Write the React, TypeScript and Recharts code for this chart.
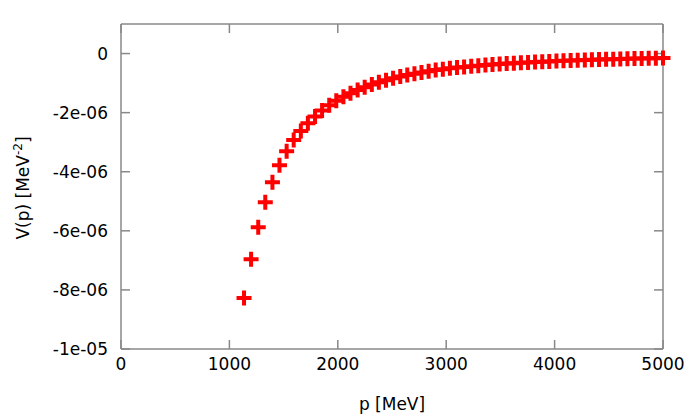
import React from 'react';
import { ScatterChart, Scatter, XAxis, YAxis } from 'recharts';

const FONT = '"DejaVu Sans", Verdana, sans-serif';

const pValues = [
  1135, 1200, 1266, 1331, 1397, 1462, 1528, 1593, 1659, 1724, 1790, 1855, 1921, 1986, 2052, 2117,
  2183, 2248, 2314, 2379, 2445, 2510, 2576, 2641, 2707, 2772, 2838, 2903, 2969, 3034, 3100, 3165,
  3231, 3296, 3362, 3427, 3493, 3558, 3624, 3689, 3755, 3820, 3886, 3951, 4017, 4082, 4148, 4213,
  4279, 4344, 4410, 4475, 4541, 4606, 4672, 4737, 4803, 4868, 4934, 5000,
];

const vValues = [
  -8.27e-6, -6.96e-6, -5.88e-6, -5.03e-6, -4.36e-6, -3.78e-6, -3.31e-6, -2.93e-6,
  -2.62e-6, -2.36e-6, -2.13e-6, -1.93e-6, -1.75e-6, -1.6e-6, -1.46e-6, -1.34e-6,
  -1.23e-6, -1.14e-6, -1.05e-6, -0.97e-6, -0.9e-6, -0.84e-6, -0.78e-6, -0.73e-6,
  -0.68e-6, -0.64e-6, -0.6e-6, -0.56e-6, -0.53e-6, -0.5e-6, -0.475e-6, -0.452e-6,
  -0.43e-6, -0.41e-6, -0.391e-6, -0.373e-6, -0.356e-6, -0.341e-6, -0.326e-6, -0.312e-6,
  -0.299e-6, -0.287e-6, -0.276e-6, -0.265e-6, -0.254e-6, -0.245e-6, -0.235e-6, -0.227e-6,
  -0.218e-6, -0.211e-6, -0.203e-6, -0.196e-6, -0.189e-6, -0.183e-6, -0.177e-6, -0.171e-6,
  -0.165e-6, -0.16e-6, -0.155e-6, -0.15e-6,
];

const xTicks = [0, 1000, 2000, 3000, 4000, 5000];
const xTickLabels = ['0', '1000', '2000', '3000', '4000', '5000'];
const yTicks = [0, -2e-6, -4e-6, -6e-6, -8e-6, -1e-5];
const yTickLabels = ['0', '-2e-06', '-4e-06', '-6e-06', '-8e-06', '-1e-05'];

const data = pValues.map((p, i) => ({ p, v: vValues[i] }));

const AXIS = '#888888';

const Plus = (props: any) => {
  const { cx, cy } = props;
  if (cx == null || cy == null) return null;
  const h = 7.5;
  return (
    <path
      d={`M${cx - h},${cy}H${cx + h}M${cx},${cy - h}V${cy + h}`}
      stroke="#ff0000"
      strokeWidth={4}
      fill="none"
    />
  );
};

const Nothing = () => <g />;

const XLabel = () => (
  <text x={392} y={410} textAnchor="middle" fontFamily={FONT} fontSize={17} fill="#000">
    p [MeV]
  </text>
);

const YLabel = () => (
  <text
    x={0}
    y={0}
    transform="translate(29,188) rotate(-90)"
    textAnchor="middle"
    fontFamily={FONT}
    fontSize={17}
    fill="#000"
  >
    V(p) [MeV
    <tspan fontSize={12} dy={-7}>-2</tspan>
    <tspan dy={7}>]</tspan>
  </text>
);

const xFmt = (v: number) => {
  const i = xTicks.indexOf(v);
  return i >= 0 ? xTickLabels[i] : String(v);
};
const yFmt = (v: number) => {
  const i = yTicks.findIndex((t) => Math.abs(t - v) < 1e-12);
  return i >= 0 ? yTickLabels[i] : String(v);
};

export default function App() {
  return (
    <div style={{ position: 'fixed', left: 0, top: 0, width: 698, height: 419, background: '#fff' }}>
      <ScatterChart width={698} height={419} margin={{ top: 23, right: 34, left: 0, bottom: 22 }}>
        <XAxis
          xAxisId="b"
          dataKey="p"
          type="number"
          orientation="bottom"
          domain={[0, 5000]}
          ticks={xTicks}
          interval={0}
          height={48}
          tickSize={-9}
          tickMargin={18}
          axisLine={{ stroke: AXIS, strokeWidth: 1.5 }}
          tickLine={{ stroke: AXIS, strokeWidth: 1.5 }}
          tick={{ fill: '#000', fontSize: 17, fontFamily: FONT }}
          tickFormatter={xFmt}
          label={{ content: XLabel }}
        />
        <XAxis
          xAxisId="t"
          dataKey="p"
          type="number"
          orientation="top"
          domain={[0, 5000]}
          ticks={xTicks}
          interval={0}
          height={1}
          tickSize={-9}
          axisLine={{ stroke: AXIS, strokeWidth: 1.5 }}
          tickLine={{ stroke: AXIS, strokeWidth: 1.5 }}
          tick={{ fill: 'none', fontSize: 1 }}
          tickFormatter={() => ''}
        />
        <YAxis
          yAxisId="l"
          dataKey="v"
          type="number"
          orientation="left"
          domain={[-1e-5, 1e-6]}
          ticks={yTicks}
          interval={0}
          width={121}
          tickSize={-9}
          tickMargin={22}
          axisLine={{ stroke: AXIS, strokeWidth: 1.5 }}
          tickLine={{ stroke: AXIS, strokeWidth: 1.5 }}
          tick={{ fill: '#000', fontSize: 17, fontFamily: FONT }}
          tickFormatter={yFmt}
          label={{ content: YLabel }}
        />
        <YAxis
          yAxisId="r"
          dataKey="v"
          type="number"
          orientation="right"
          domain={[-1e-5, 1e-6]}
          ticks={yTicks}
          interval={0}
          width={1}
          tickSize={-9}
          axisLine={{ stroke: AXIS, strokeWidth: 1.5 }}
          tickLine={{ stroke: AXIS, strokeWidth: 1.5 }}
          tick={{ fill: 'none', fontSize: 1 }}
          tickFormatter={() => ''}
        />
        <Scatter
          xAxisId="t"
          yAxisId="r"
          data={data}
          dataKey="v"
          shape={Nothing}
          isAnimationActive={false}
        />
        <Scatter
          xAxisId="b"
          yAxisId="l"
          data={data}
          dataKey="v"
          shape={Plus}
          isAnimationActive={false}
        />
      </ScatterChart>
    </div>
  );
}
